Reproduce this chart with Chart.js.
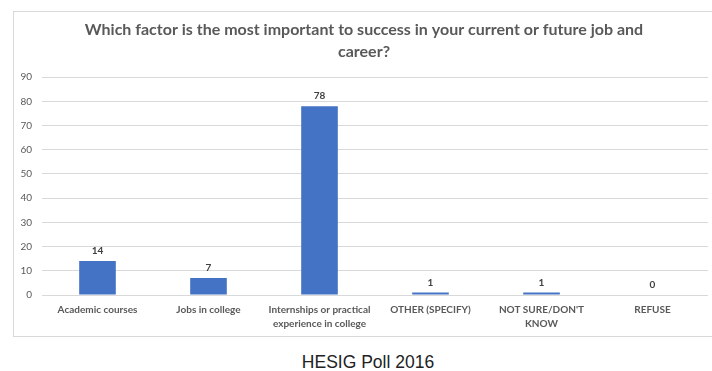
<!DOCTYPE html>
<html>
<head>
<meta charset="utf-8">
<script src="https://cdn.jsdelivr.net/npm/chart.js@4"></script>
<style>
  body { margin: 0; background: #fff; width: 712px; height: 371px; overflow: hidden; position: relative; }
  #box { position: absolute; left: 13px; top: 11px; width: 705px; height: 324px; border: 1px solid #d9d9d9; }
  #poll { position: absolute; left: 20px; top: 12px; }
  #footer { position: absolute; left: 0; width: 736px; top: 352px; text-align: center;
            font-family: "Liberation Sans", Arial, sans-serif; font-size: 17.5px; color: #222; }
</style>
</head>
<body>
<div id="box"></div>
<canvas id="poll"></canvas>
<div id="footer">HESIG Poll 2016</div>
<script>
// answers and counts
const categories = [
  "Academic courses",
  "Jobs in college",
  ["Internships or practical", "experience in college"],
  "OTHER (SPECIFY)",
  ["NOT SURE/DON'T", "KNOW"],
  "REFUSE",
];
const counts = [14, 7, 78, 1, 1, 0];
const yTicks = [0, 10, 20, 30, 40, 50, 60, 70, 80, 90];

const font = "Lato, 'Open Sans', sans-serif";

// writes the count above each bar
const valueLabels = {
  id: "valueLabels",
  afterDatasetsDraw(chart) {
    const ctx = chart.ctx;
    const meta = chart.getDatasetMeta(0);
    ctx.save();
    ctx.font = "bold 10px " + font;
    ctx.fillStyle = "#404040";
    ctx.textAlign = "center";
    ctx.textBaseline = "bottom";
    meta.data.forEach((bar, i) => {
      ctx.fillText(counts[i], bar.x, bar.y - 5);
    });
    ctx.restore();
  },
};

const canvas = document.getElementById("poll");
canvas.width = 698;
canvas.height = 323;

new Chart(canvas.getContext("2d"), {
  type: "bar",
  data: {
    labels: categories,
    datasets: [
      {
        data: counts,
        backgroundColor: "#4472C4",
        categoryPercentage: 0.66,
        barPercentage: 0.5,
      },
    ],
  },
  options: {
    responsive: false,
    animation: false,
    layout: { padding: { left: 0, right: 10, top: 0, bottom: 4 } },
    plugins: {
      legend: { display: false },
      tooltip: { enabled: false },
      title: {
        display: true,
        text: ["Which factor is the most important to success in your current or future job and", "career?"],
        color: "#595959",
        font: { family: font, size: 16, weight: "bold", lineHeight: 1.38 },
        padding: { top: 7, bottom: 14 },
      },
    },
    scales: {
      y: {
        min: 0,
        max: 90,
        afterBuildTicks(axis) {
          axis.ticks = yTicks.map((v) => ({ value: v }));
        },
        afterFit(axis) {
          axis.width = 22;
        },
        border: { display: false },
        grid: { color: "#d9d9d9", drawTicks: false },
        ticks: { color: "#595959", font: { family: font, size: 10 }, padding: 10 },
      },
      x: {
        border: { display: false },
        grid: { display: false },
        ticks: {
          color: "#595959",
          font: { family: font, size: 10, weight: "bold", lineHeight: 1.4 },
          padding: 0,
          maxRotation: 0,
          autoSkip: false,
        },
      },
    },
  },
  plugins: [valueLabels],
});
</script>
</body>
</html>
